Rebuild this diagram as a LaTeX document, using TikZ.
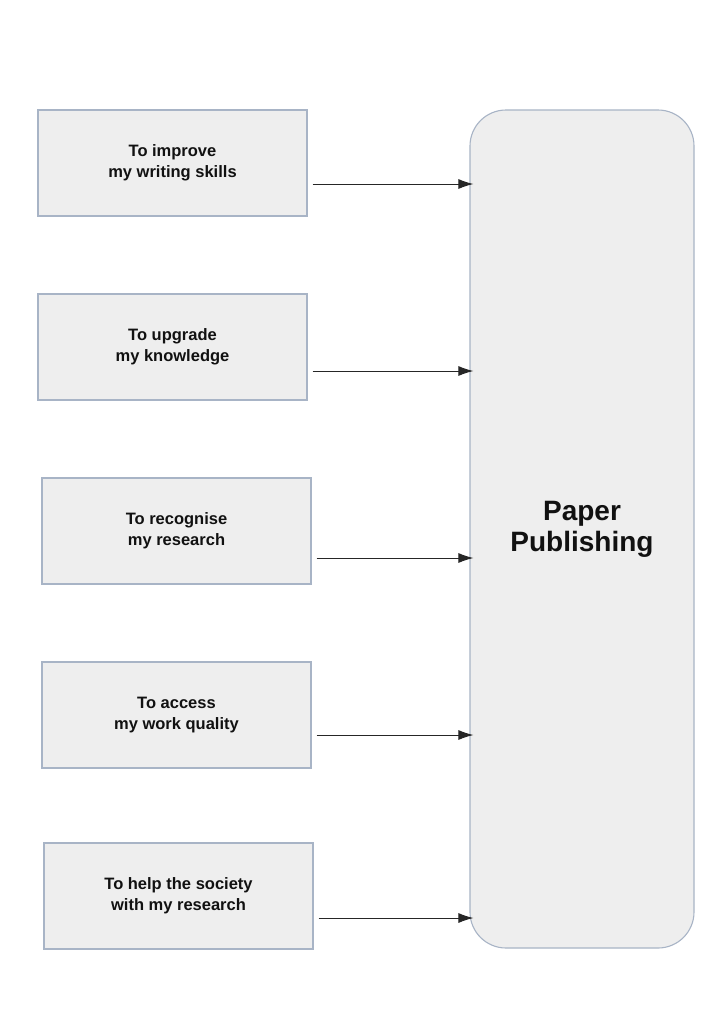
\documentclass[tikz,border=0pt]{standalone}
\usepackage{fontspec}
\setmainfont{Liberation Sans}
\usetikzlibrary{arrows.meta}
\definecolor{boxfill}{HTML}{EEEEEE}
\definecolor{boxline}{HTML}{A8B4C6}
\definecolor{txt}{HTML}{111111}
\begin{document}
\begin{tikzpicture}[x=1pt,y=-1pt,
  reason/.style={draw=boxline,fill=boxfill,line width=1.1pt,minimum width=269pt,minimum height=106pt,
    inner sep=0pt,align=center,text=txt,font=\bfseries\fontsize{16.5}{21}\selectfont},
  target/.style={draw=boxline,fill=boxfill,line width=1.1pt,rounded corners=36pt,minimum width=224pt,minimum height=838pt,
    inner sep=0pt,align=center,text=txt,font=\bfseries\fontsize{28}{31}\selectfont},
  arr/.style={draw=black!85,line width=1pt,-{Latex[length=15pt,width=10pt]},shorten >=1pt}]
\useasboundingbox[fill=white] (0,0) rectangle (720,1018);
\node[target] (pp) at (582,529) {Paper\\Publishing};
\node[reason] (b1) at (172.5,163) {To improve\\my writing skills};
\node[reason] (b2) at (172.5,347) {To upgrade\\my knowledge};
\node[reason] (b3) at (176.5,531) {To recognise\\my research};
\node[reason] (b4) at (176.5,715) {To access\\my work quality};
\node[reason] (b5) at (178.5,896) {To help the society\\with my research};
\draw[arr] ([shift={(5,21)}]b1.east) -- ([shift={(5,21)}]b1.east -| pp.west);
\draw[arr] ([shift={(5,24)}]b2.east) -- ([shift={(5,24)}]b2.east -| pp.west);
\draw[arr] ([shift={(5,27)}]b3.east) -- ([shift={(5,27)}]b3.east -| pp.west);
\draw[arr] ([shift={(5,20)}]b4.east) -- ([shift={(5,20)}]b4.east -| pp.west);
\draw[arr] ([shift={(5,22)}]b5.east) -- ([shift={(5,22)}]b5.east -| pp.west);
\end{tikzpicture}
\end{document}
